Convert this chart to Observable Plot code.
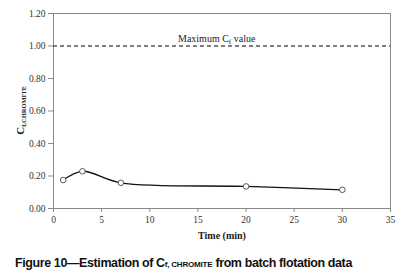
<!DOCTYPE html>
<html>
<head>
<meta charset="utf-8">
<script src="https://cdn.jsdelivr.net/npm/d3@7"></script>
<script src="https://cdn.jsdelivr.net/npm/@observablehq/plot@0.6"></script>
<style>
  html, body { margin: 0; padding: 0; background: #fff; }
  #chart { width: 403px; height: 245px; }
  #caption { position: absolute; left: 15px; top: 256px; font-family: "Liberation Sans", Arial, sans-serif; font-weight: bold; font-size: 12.5px; color: #111; white-space: nowrap; letter-spacing: -0.4px; }
  #caption .sub { font-size: 8px; letter-spacing: -0.2px; }
</style>
</head>
<body>
<div id="chart"></div>
<div id="caption">Figure 10—Estimation of C<span class="sub">f, CHROMITE</span> from batch flotation data</div>
<script>
const times = [1, 3, 7, 20, 30];
const cfValues = [0.175, 0.229, 0.158, 0.136, 0.115];
const maxCf = 1.0;
const xTicks = [0, 5, 10, 15, 20, 25, 30, 35];
const yTicks = [0, 0.2, 0.4, 0.6, 0.8, 1.0, 1.2];
const xLabel = "Time (min)";

const data = times.map((t, i) => ({t, c: cfValues[i]}));

const plot = Plot.plot({
  width: 403,
  height: 245,
  marginLeft: 53,
  marginRight: 13,
  marginTop: 13,
  marginBottom: 37,
  style: {fontFamily: "'Liberation Serif', 'Times New Roman', serif", fontSize: "9.5px", color: "#333", background: "#fff"},
  x: {domain: [0, 35], ticks: xTicks},
  y: {domain: [0, 1.2], ticks: yTicks},
  marks: [
    Plot.frame({stroke: "#8a8a8a", strokeWidth: 1}),
    Plot.axisX({ticks: xTicks, tickSize: 4, tickPadding: 4, stroke: "#8a8a8a", label: xLabel, labelAnchor: "center", labelArrow: "none", labelOffset: 30, fontSize: "9.5px"}),
    Plot.axisY({ticks: yTicks, tickFormat: d3.format(".2f"), tickSize: 5, tickPadding: 3, stroke: "#8a8a8a", label: null}),
    Plot.ruleY([maxCf], {stroke: "#555", strokeWidth: 1.3, strokeDasharray: "4,3"}),
    Plot.line(data, {x: "t", y: "c", curve: "catmull-rom", stroke: "#111", strokeWidth: 1.3}),
    Plot.dot(data, {x: "t", y: "c", r: 2.8, stroke: "#333", fill: "#fff", strokeWidth: 0.8})
  ]
});
document.getElementById("chart").appendChild(plot);

const svg = d3.select(plot);
// bold x-axis label
svg.selectAll("g[aria-label='x-axis label'] text").attr("font-weight", "bold").attr("font-size", "10px").attr("fill", "#222");

// "Maximum Cf value" label
const sx = plot.scale("x"), sy = plot.scale("y");
const lbl = svg.append("text")
  .attr("x", sx.apply(17))
  .attr("y", sy.apply(maxCf) - 4)
  .attr("text-anchor", "middle")
  .attr("font-family", "'Liberation Serif', 'Times New Roman', serif")
  .attr("font-size", "10px")
  .attr("fill", "#222");
lbl.append("tspan").text("Maximum C");
lbl.append("tspan").attr("font-size", "7px").attr("dy", 2).text("f");
lbl.append("tspan").attr("dy", -2).text(" value");

// Y axis label
const yl = svg.append("text")
  .attr("transform", `translate(24,${(sy.apply(0.6))}) rotate(-90)`)
  .attr("text-anchor", "middle")
  .attr("font-family", "'Liberation Serif', 'Times New Roman', serif")
  .attr("font-weight", "bold")
  .attr("fill", "#222");
yl.append("tspan").attr("font-size", "11px").text("C");
yl.append("tspan").attr("font-size", "6.5px").attr("dy", 2).text("f,CHROMITE");
</script>
</body>
</html>
